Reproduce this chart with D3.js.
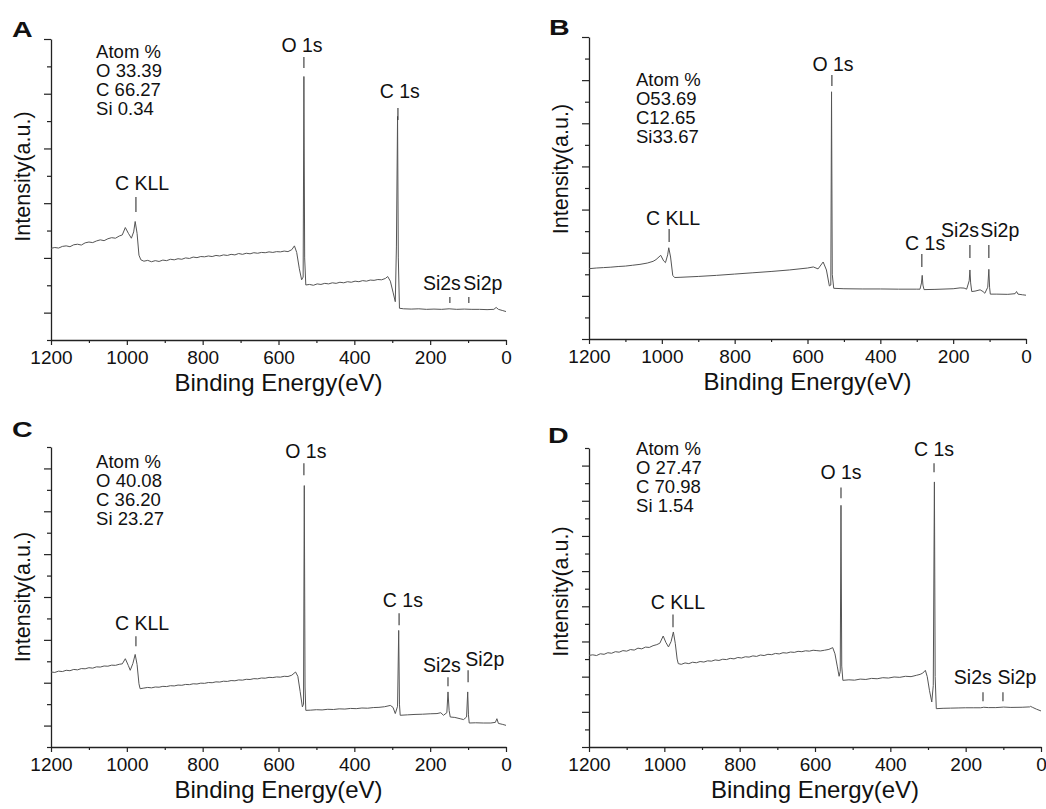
<!DOCTYPE html>
<html>
<head>
<meta charset="utf-8">
<script src="https://cdn.jsdelivr.net/npm/d3@7"></script>
<style>
  body { margin: 0; background: #fff; }
  svg { display: block; }
  text { font-family: "Liberation Sans", Arial, sans-serif; fill: #111; }
</style>
</head>
<body>
<svg id="xps_svg" width="1046" height="809"></svg>
<script>
// survey spectra: [binding energy (eV), intensity in axis tick units]
var specA = [
  [1200,3.35],[1190,3.38],[1180,3.36],[1170,3.42],[1160,3.44],[1150,3.41],[1140,3.48],[1130,3.50],
  [1120,3.47],[1110,3.55],[1100,3.58],[1090,3.56],[1080,3.62],[1070,3.66],[1060,3.63],[1050,3.70],
  [1040,3.74],[1030,3.72],[1020,3.80],[1012,3.84],[1004,4.11],[996,3.90],[988,3.72],[982,3.95],
  [978,4.33],[973,3.90],[968,3.10],[963,2.93],[955,2.88],[945,2.91],[935,2.86],[925,2.90],
  [915,2.87],[905,2.92],[895,2.90],[885,2.95],[875,2.93],[865,2.97],[855,2.95],[845,3.00],
  [835,2.98],[825,3.03],[815,3.01],[805,3.05],[795,3.04],[785,3.07],[775,3.05],[765,3.09],
  [755,3.07],[745,3.11],[735,3.09],[725,3.13],[715,3.11],[705,3.16],[695,3.13],[685,3.17],
  [675,3.15],[665,3.19],[655,3.17],[645,3.20],[635,3.19],[625,3.22],[615,3.20],[605,3.23],
  [595,3.22],[585,3.25],[575,3.23],[565,3.30],[558,3.44],[552,3.20],[545,2.60],[539,2.20],
  [535,2.30],[533,9.63],[531,3.00],[528,2.01],[518,2.03],[508,2.00],[498,2.05],[488,2.03],
  [478,2.07],[468,2.05],[458,2.09],[448,2.07],[438,2.11],[428,2.09],[418,2.13],[408,2.11],
  [398,2.15],[388,2.13],[378,2.17],[368,2.15],[358,2.19],[348,2.18],[338,2.21],[328,2.20],
  [318,2.25],[312,2.32],[305,2.15],[298,1.75],[292,1.40],[289,3.40],[286,8.17],[284,3.00],
  [281,1.16],[270,1.14],[250,1.13],[230,1.14],[210,1.12],[190,1.13],[170,1.12],[150,1.14],
  [130,1.12],[110,1.13],[90,1.12],[70,1.12],[50,1.11],[32,1.12],[26,1.19],[20,1.12],[10,1.08],[0,1.04]
];
var specB = [
  [1200,3.26],[1180,3.29],[1160,3.31],[1140,3.33],[1120,3.36],[1100,3.38],[1080,3.42],[1060,3.46],
  [1040,3.52],[1024,3.60],[1016,3.68],[1003,3.88],[995,3.62],[990,3.54],[984,3.90],[981,4.23],
  [976,3.80],[970,2.95],[965,2.85],[950,2.86],[900,2.90],[850,2.95],[800,3.01],[750,3.07],
  [700,3.13],[650,3.20],[600,3.29],[584,3.34],[571,3.25],[557,3.57],[548,3.20],[540,2.46],
  [536,2.50],[534,11.46],[532,3.00],[528,2.35],[500,2.33],[450,2.32],[400,2.32],[350,2.31],
  [300,2.31],[291,2.31],[287,2.60],[285,2.95],[283,2.50],[280,2.29],[250,2.30],[200,2.33],
  [181,2.37],[170,2.36],[163,2.31],[156,2.70],[154,3.20],[152,2.60],[149,2.20],[140,2.22],
  [126,2.28],[118,2.20],[113,2.12],[105,2.40],[102,3.23],[100,2.40],[98,2.08],[80,2.08],
  [50,2.07],[30,2.10],[26,2.20],[22,2.08],[10,2.05],[0,2.03]
];
var specC = [
  [1200,3.50],[1190,3.48],[1180,3.54],[1170,3.52],[1160,3.58],[1150,3.56],[1140,3.62],[1130,3.60],
  [1120,3.66],[1110,3.65],[1100,3.70],[1090,3.68],[1080,3.74],[1070,3.73],[1060,3.78],[1050,3.77],
  [1040,3.82],[1030,3.81],[1020,3.86],[1012,3.88],[1004,4.12],[996,3.80],[991,3.58],[984,3.90],
  [978,4.32],[973,3.85],[968,2.95],[965,2.72],[955,2.75],[945,2.78],[935,2.76],[925,2.80],
  [915,2.79],[905,2.83],[895,2.82],[885,2.86],[875,2.85],[865,2.89],[855,2.88],[845,2.92],
  [835,2.91],[825,2.95],[815,2.94],[805,2.98],[795,2.97],[785,3.01],[775,3.00],[765,3.04],
  [755,3.03],[745,3.07],[735,3.06],[725,3.10],[715,3.09],[705,3.13],[695,3.12],[685,3.16],
  [675,3.15],[665,3.19],[655,3.18],[645,3.22],[635,3.21],[625,3.25],[615,3.24],[605,3.27],
  [595,3.26],[585,3.30],[575,3.29],[565,3.35],[555,3.50],[549,3.30],[543,2.60],[537,1.87],
  [534,2.00],[532,12.20],[530,2.80],[528,1.71],[515,1.72],[500,1.74],[485,1.73],[470,1.76],
  [455,1.75],[440,1.78],[425,1.77],[410,1.80],[395,1.79],[380,1.82],[365,1.81],[350,1.84],
  [335,1.85],[320,1.88],[305,1.94],[298,1.85],[292,1.56],[286,1.90],[283,5.44],[281,2.00],
  [279,1.48],[260,1.50],[240,1.52],[220,1.53],[200,1.55],[182,1.56],[172,1.60],[165,1.48],
  [156,1.60],[153,2.57],[150,1.70],[147,1.40],[135,1.38],[121,1.32],[112,1.28],[104,1.40],
  [101,2.57],[99,1.50],[97,1.12],[80,1.13],[60,1.12],[40,1.12],[28,1.15],[24,1.32],[20,1.10],
  [10,1.06],[0,1.01]
];
var specD = [
  [1200,5.21],[1190,5.24],[1180,5.20],[1170,5.30],[1160,5.27],[1150,5.36],[1140,5.33],[1130,5.42],
  [1120,5.39],[1110,5.48],[1100,5.45],[1090,5.54],[1080,5.51],[1070,5.62],[1060,5.58],[1050,5.68],
  [1040,5.66],[1030,5.76],[1020,5.82],[1012,5.90],[1003,6.31],[996,5.95],[989,5.69],[982,6.00],
  [976,6.54],[971,5.90],[966,5.00],[963,4.74],[955,4.70],[945,4.78],[935,4.74],[925,4.82],
  [915,4.79],[905,4.86],[895,4.83],[885,4.90],[875,4.88],[865,4.95],[855,4.92],[845,4.99],
  [835,4.97],[825,5.04],[815,5.01],[805,5.09],[795,5.06],[785,5.13],[775,5.11],[765,5.18],
  [755,5.15],[745,5.23],[735,5.20],[725,5.27],[715,5.25],[705,5.32],[695,5.29],[685,5.36],
  [675,5.34],[665,5.40],[655,5.38],[645,5.44],[635,5.42],[625,5.47],[615,5.45],[605,5.50],
  [595,5.48],[586,5.46],[575,5.50],[563,5.55],[553,5.65],[547,5.30],[541,4.60],[536,4.02],
  [533,4.30],[531,13.74],[529,4.60],[526,3.79],[510,3.82],[495,3.80],[480,3.86],[465,3.84],
  [450,3.90],[435,3.88],[420,3.94],[405,3.92],[390,3.98],[375,3.96],[360,4.02],[345,4.00],
  [330,4.08],[321,4.13],[314,4.20],[307,4.36],[302,4.00],[296,3.20],[290,2.56],[286,3.50],
  [283,15.07],[281,4.00],[278,2.18],[260,2.20],[240,2.21],[220,2.22],[200,2.23],[180,2.23],
  [160,2.23],[152,2.26],[140,2.24],[120,2.24],[99,2.27],[80,2.25],[50,2.26],[30,2.28],
  [28,2.31],[22,2.25],[12,2.15],[0,2.05]
];

// surface composition
var atomA = ["Atom %", "O 33.39", "C 66.27", "Si 0.34"];
var atomB = ["Atom %", "O53.69", "C12.65", "Si33.67"];
var atomC = ["Atom %", "O 40.08", "C 36.20", "Si 23.27"];
var atomD = ["Atom %", "O 27.47", "C 70.98", "Si 1.54"];

// peak marks: name, mark energy, mark top, mark bottom, label energy, label baseline
var peaksA = [["O 1s",533,10.34,9.94,538,10.54],["C 1s",285,8.48,8.04,280,8.85],["C KLL",976,5.23,4.68,960,5.48],
              ["Si2s",148,1.57,1.35,169,1.83],["Si2p",98,1.57,1.35,61,1.83]];
var peaksB = [["O 1s",533,12.24,11.73,530,12.42],["C KLL",980,5.10,4.50,969,5.29],["C 1s",286,3.94,3.34,277,4.13],
              ["Si2s",154,4.36,3.76,181,4.73],["Si2p",102,4.36,3.76,72,4.73]];
var peaksC = [["O 1s",533,13.24,12.68,528,13.47],["C KLL",976,5.17,4.70,960,5.45],["C 1s",282,6.24,5.68,272,6.52],
              ["Si2s",153,3.25,2.83,169,3.49],["Si2p",100,3.58,3.02,56,3.77]];
var peaksD = [["O 1s",531,14.76,14.14,531,15.22],["C 1s",284,16.13,15.62,284,16.53],["C KLL",977,7.54,6.81,964,7.83],
              ["Si2s",154,3.11,2.60,181,3.56],["Si2p",101,3.11,2.60,64,3.56]];

var xTicks = d3.range(0, 1201, 100);

var svg = d3.select("#xps_svg");

// panel layout (pixels) + where the composition block sits (data units)
var panels = [
  {letter:"A", lx:12, ly:37, left:51, right:506, top:39, bottom:340, yMax:11, majorOdd:true,
   spec:specA, atoms:atomA, peaks:peaksA, atomAt:[1081,10.31], ylabShift:-13},
  {letter:"B", lx:549, ly:35, left:589, right:1026, top:37, bottom:339, yMax:14, majorOdd:false,
   spec:specB, atoms:atomB, peaks:peaksB, atomAt:[1071,11.73], ylabShift:-19},
  {letter:"C", lx:12, ly:437, left:51, right:506, top:447, bottom:747, yMax:14, majorOdd:true,
   spec:specC, atoms:atomC, peaks:peaksC, atomAt:[1081,13.0], ylabShift:0},
  {letter:"D", lx:548, ly:443, left:589, right:1041, top:448, bottom:747, yMax:17, majorOdd:false,
   spec:specD, atoms:atomD, peaks:peaksD, atomAt:[1075,16.58], ylabShift:-6}
];

panels.forEach(drawPanel);

function drawPanel(p) {
    var x = d3.scaleLinear().domain([1200, 0]).range([p.left, p.right]);
    var y = d3.scaleLinear().domain([0, p.yMax]).range([p.bottom, p.top]);
    var g = svg.append('g');

    // x axis, labels every 200 eV
    var xa = g.append('g')
        .attr('transform', 'translate(0,' + p.bottom + ')')
        .call(d3.axisBottom(x).tickValues(xTicks).tickSize(5).tickSizeOuter(0).tickPadding(6)
              .tickFormat(function(d){ return d % 200 === 0 ? d : ''; }));
    xa.selectAll('.tick line').attr('y2', function(d){ return d % 200 === 0 ? 5 : 3; });
    xa.selectAll('text').attr('font-size', 19).attr('font-family', '"Liberation Sans", Arial, sans-serif').attr('fill', '#111');

    // y axis, unlabelled, alternating long/short ticks
    var ya = g.append('g')
        .attr('transform', 'translate(' + p.left + ',0)')
        .call(d3.axisLeft(y).tickValues(d3.range(0, p.yMax + 1)).tickSize(7).tickSizeOuter(0).tickFormat(''));
    ya.selectAll('.tick line').attr('x2', function(d){
        var major = p.majorOdd ? d % 2 === 1 : d % 2 === 0;
        return major ? -7 : -4;
    });

    g.selectAll('.domain').attr('stroke', '#222').attr('stroke-width', 1.3);
    g.selectAll('.tick line').attr('stroke', '#222').attr('stroke-width', 1.2);

    // spectrum
    var line = d3.line().x(function(d){ return x(d[0]); }).y(function(d){ return y(d[1]); });
    g.append('path')
        .attr('d', line(p.spec))
        .attr('fill', 'none')
        .attr('stroke', '#555')
        .attr('stroke-width', 1)
        .attr('stroke-linejoin', 'round');

    // peak marks and names
    p.peaks.forEach(function(k){
        g.append('line')
            .attr('x1', x(k[1])).attr('x2', x(k[1]))
            .attr('y1', y(k[2])).attr('y2', y(k[3]))
            .attr('stroke', '#333').attr('stroke-width', 1.1);
        g.append('text')
            .attr('x', x(k[4])).attr('y', y(k[5]))
            .attr('text-anchor', 'middle')
            .attr('font-size', 19.5)
            .text(k[0]);
    });

    // composition block, one text per line
    p.atoms.forEach(function(s, i){
        g.append('text')
            .attr('x', x(p.atomAt[0]))
            .attr('y', y(p.atomAt[1]) + i * 19)
            .attr('font-size', 18.5)
            .text(s);
    });

    // axis titles
    g.append('text')
        .attr('x', (p.left + p.right) / 2).attr('y', p.bottom + 51)
        .attr('text-anchor', 'middle').attr('font-size', 24)
        .text('Binding Energy(eV)');
    g.append('text')
        .attr('transform', 'translate(' + (p.left - 21) + ',' + ((p.top + p.bottom) / 2 + p.ylabShift) + ') rotate(-90)')
        .attr('text-anchor', 'middle').attr('font-size', 21.5)
        .text('Intensity(a.u.)');

    // panel letter
    g.append('text')
        .attr('transform', 'translate(' + p.lx + ',' + p.ly + ') scale(1.3,1)')
        .attr('font-size', 22).attr('font-weight', 'bold').attr('fill', '#000')
        .text(p.letter);
}
</script>
</body>
</html>
